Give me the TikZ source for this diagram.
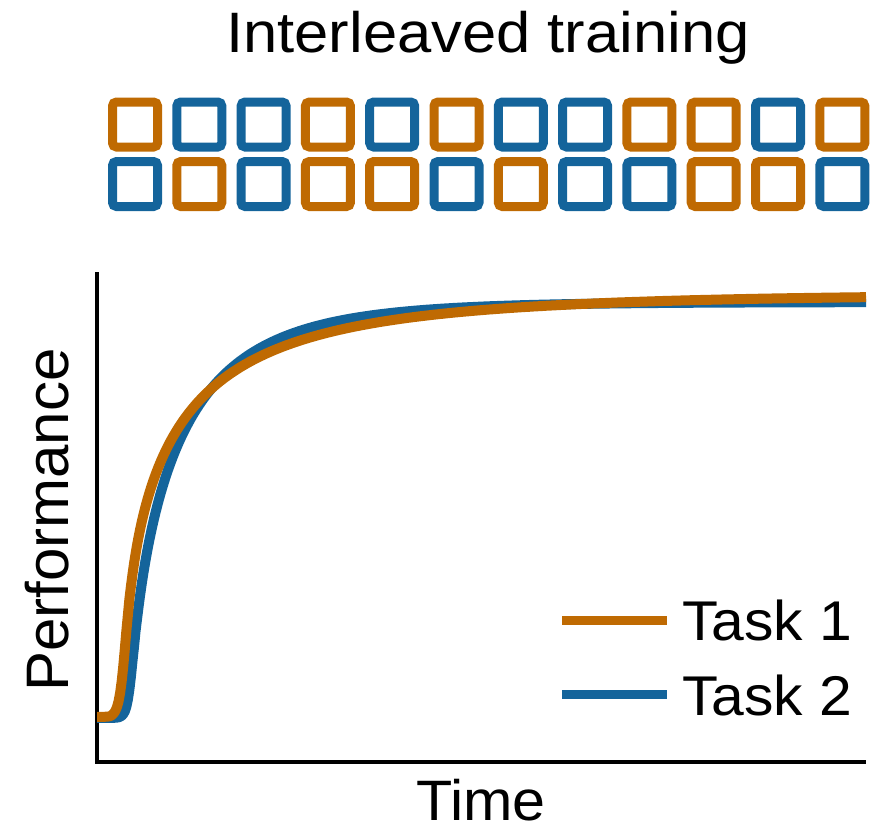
\documentclass[tikz,border=0pt]{standalone}
\usepackage{fontspec}
\setmainfont{Liberation Sans}
\definecolor{torange}{RGB}{191,106,2}
\definecolor{tblue}{RGB}{20,100,155}
\tikzset{
  sq/.style={draw=#1, line width=9pt, rounded corners=4pt, minimum size=45pt, inner sep=0pt, fill=white},
  lbl/.style={font=\fontsize{#1}{#1}\selectfont, inner sep=0pt},
  axisline/.style={line width=4.5pt, black},
  curve/.style={line width=10pt, #1, line join=round},
  legline/.style={line width=9pt, #1},
  declare function={
    sp(\t,\z)=((\t-\z)>18 ? (\t-\z) : 2*ln(1+exp(min((\t-\z)/2,9))));
    perf(\t,\z,\tau,\p,\yz,\amp)=\yz-\amp*(1-exp(-pow((sp(\t,\z)+0.001)/\tau,\p)));
  }
}
\begin{document}
\begin{tikzpicture}[x=1pt,y=-1pt]
\useasboundingbox (0,0) rectangle (874,830);
% title
\node[lbl=57, xscale=1.08, anchor=base] (title) at (488,52) {Interleaved training};
% squares
\foreach \c [count=\i from 0] in {torange,tblue,tblue,torange,tblue,torange,tblue,tblue,torange,torange,tblue,torange}{
  \node[sq=\c] (a\i) at (135+64.3*\i,124.5) {};
}
\foreach \c [count=\i from 0] in {tblue,torange,tblue,torange,torange,tblue,torange,tblue,tblue,torange,torange,tblue}{
  \node[sq=\c] (b\i) at (135+64.3*\i,184) {};
}
% axes
\coordinate (ytop) at (97,272);
\coordinate (orig) at (97,762);
\coordinate (xend) at (866,762);
\draw[axisline] (ytop) -- (orig) -- (xend);
% curves
\draw[curve=tblue] plot[domain=97:866, samples=500, variable=\t] ({\t},{perf(\t,130,43.5,0.72,718,416)});
\draw[curve=torange] plot[domain=97:866, samples=500, variable=\t] ({\t},{perf(\t,124,42,0.553,718,424)});
% axis labels
\node[lbl=60, rotate=90, anchor=base] (ylab) at (68,520) {Performance};
\node[lbl=57, xscale=1.04, anchor=base] (xlab) at (481,820) {Time};
% legend
\coordinate (l1a) at (562,620); \coordinate (l1b) at (667,620);
\coordinate (l2a) at (562,694); \coordinate (l2b) at (667,694);
\draw[legline=torange] (l1a) -- (l1b);
\draw[legline=tblue] (l2a) -- (l2b);
\node[lbl=56, xscale=1.05, anchor=base west] (t1) at (682,640) {Task 1};
\node[lbl=56, xscale=1.05, anchor=base west] (t2) at (682,715) {Task 2};
\end{tikzpicture}
\end{document}
